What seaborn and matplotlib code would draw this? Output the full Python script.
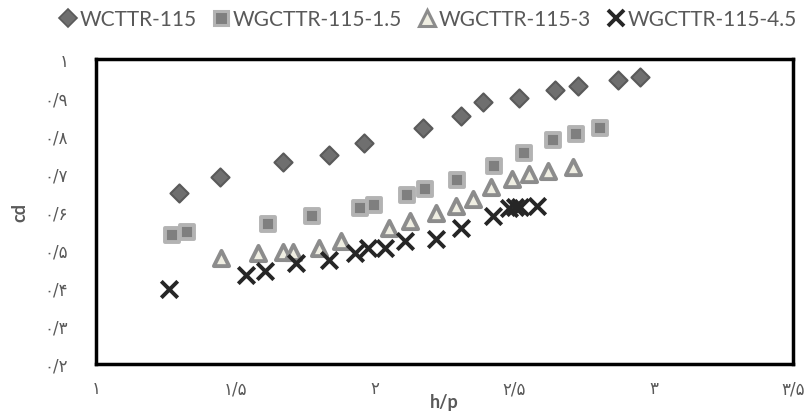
import matplotlib
matplotlib.use("Agg")
import matplotlib.pyplot as plt
import seaborn as sns
import pandas as pd
from matplotlib.lines import Line2D

# ---- data ----
wcttr_x = [1.299, 1.446, 1.672, 1.837, 1.961, 2.173, 2.310, 2.388, 2.518, 2.645, 2.729, 2.871, 2.953]
wcttr_y = [0.648, 0.690, 0.729, 0.749, 0.779, 0.819, 0.850, 0.887, 0.897, 0.920, 0.930, 0.944, 0.952]

g15_x = [1.272, 1.327, 1.617, 1.774, 1.947, 1.998, 2.117, 2.181, 2.294, 2.426, 2.536, 2.638, 2.721, 2.808]
g15_y = [0.538, 0.547, 0.567, 0.589, 0.610, 0.618, 0.643, 0.659, 0.683, 0.720, 0.753, 0.787, 0.803, 0.820]

g3_x = [1.447, 1.580, 1.672, 1.708, 1.800, 1.880, 2.052, 2.127, 2.220, 2.292, 2.353, 2.418, 2.491, 2.554, 2.620, 2.711]
g3_y = [0.477, 0.491, 0.493, 0.494, 0.505, 0.523, 0.557, 0.574, 0.596, 0.614, 0.634, 0.664, 0.684, 0.698, 0.707, 0.718]

g45_x = [1.262, 1.539, 1.606, 1.717, 1.837, 1.930, 1.977, 2.035, 2.109, 2.220, 2.310, 2.425, 2.482, 2.503, 2.521, 2.581]
g45_y = [0.396, 0.434, 0.443, 0.465, 0.474, 0.491, 0.505, 0.505, 0.522, 0.529, 0.556, 0.587, 0.608, 0.613, 0.611, 0.615]

series_names = ["WCTTR-115", "WGCTTR-115-1.5", "WGCTTR-115-3", "WGCTTR-115-4.5"]
x_ticks = [1, 1.5, 2, 2.5, 3, 3.5]
x_tick_labels = ["۱", "۱/۵", "۲", "۲/۵", "۳", "۳/۵"]
y_ticks = [0.2, 0.3, 0.4, 0.5, 0.6, 0.7, 0.8, 0.9, 1.0]
y_tick_labels = ["۰/۲", "۰/۳", "۰/۴", "۰/۵", "۰/۶", "۰/۷", "۰/۸", "۰/۹", "۱"]

sns.set_theme(style="white")
plt.rcParams['font.family'] = ['Lato', 'DejaVu Sans']

fig = plt.figure(figsize=(8.09, 4.14), dpi=100)
ax = fig.add_axes([96/809, 1-365/414, (793-96)/809, (365-60)/414])

styles = [
    dict(marker="D", s=85, color="#6f6f6f", edgecolor="#5a5a5a", linewidth=1.5),
    dict(marker="s", s=110, color="#7f7f7f", edgecolor="#b3b3b3", linewidth=2.8),
    dict(marker="^", s=120, color="#efeee2", edgecolor="#8c8c8c", linewidth=2.8),
    dict(marker="x", s=140, color="#262626", linewidth=2.8),
]
data = [(wcttr_x, wcttr_y), (g15_x, g15_y), (g3_x, g3_y), (g45_x, g45_y)]

for (xs, ys), name, st in zip(data, series_names, styles):
    df = pd.DataFrame({"h/p": xs, "cd": ys})
    sns.scatterplot(data=df, x="h/p", y="cd", ax=ax, zorder=3, clip_on=False, **st)

ax.set_xlim(1, 3.5)
ax.set_ylim(0.2, 1.0)
ax.set_xticks(x_ticks)
ax.set_xticklabels(x_tick_labels)
ax.set_yticks(y_ticks)
ax.set_yticklabels(y_tick_labels)
ax.tick_params(axis='both', length=0, labelsize=12, labelcolor="#595959")
ax.tick_params(axis='x', pad=11)
ax.tick_params(axis='y', pad=20)
for lab in ax.get_xticklabels() + ax.get_yticklabels():
    lab.set_family(['DejaVu Sans'])

for sp in ax.spines.values():
    sp.set_visible(True)
    sp.set_color("black")
    sp.set_linewidth(2.5)

ax.set_xlabel("h/p", fontsize=13, fontweight="bold", color="#595959", labelpad=-3)
ax.set_ylabel("cd", fontsize=13, fontweight="bold", color="#595959", labelpad=12)

handles = [
    Line2D([], [], linestyle="none", marker="D", markersize=9, markerfacecolor="#6f6f6f", markeredgecolor="#5a5a5a", markeredgewidth=1.2),
    Line2D([], [], linestyle="none", marker="s", markersize=10, markerfacecolor="#7f7f7f", markeredgecolor="#b3b3b3", markeredgewidth=2.2),
    Line2D([], [], linestyle="none", marker="^", markersize=11, markerfacecolor="#efeee2", markeredgecolor="#8c8c8c", markeredgewidth=2.2),
    Line2D([], [], linestyle="none", marker="x", markersize=11, color="#262626", markeredgewidth=2.8),
]
leg = fig.legend(handles, series_names, loc="center", bbox_to_anchor=(428/809, 1-20/414), ncol=4,
                 frameon=False, fontsize=15, handlelength=0.8, handletextpad=0.15, columnspacing=0.8,
                 labelcolor="#595959")

fig.savefig("out.png", dpi=100)
